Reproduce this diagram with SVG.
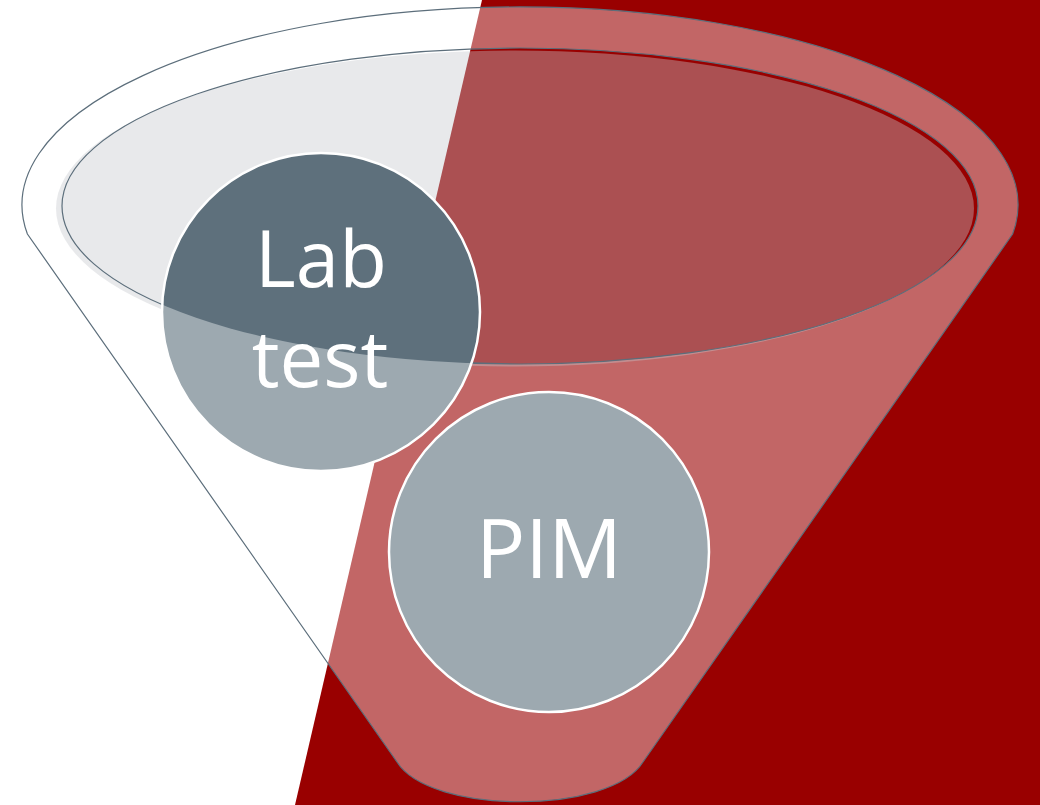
<svg xmlns="http://www.w3.org/2000/svg" width="1040" height="805" viewBox="0 0 1040 805">
  <defs>
    <style>
      .lbl { font-family: "Open Sans", "Liberation Sans", sans-serif; font-size: 82px; fill: #ffffff; text-anchor: middle; }
      .lbl2 { font-size: 78px; }
      .node { stroke: #ffffff; stroke-width: 2.5; }
      .edge { stroke: #5c6e7b; stroke-width: 1.2; }
    </style>
    <clipPath id="innerClip">
      <ellipse cx="520" cy="206" rx="458" ry="158"/>
    </clipPath>
  </defs>

  <rect x="0" y="0" width="1040" height="805" fill="#ffffff"/>
  <polygon id="bg-red" points="482,0 1040,0 1040,805 295,805" fill="#990000"/>

  <g id="funnel">
    <path d="M 27.4,234 A 498 198 0 1 1 1012.6,234 L 643,762 C 610,815 430,815 397,762 Z M 62,206 A 458 158 0 1 0 978,206 A 458 158 0 1 0 62,206 Z" fill="#ffffff" fill-opacity="0.4" fill-rule="evenodd"/>
    <ellipse cx="515" cy="208.5" rx="459" ry="158" fill="#c5c8cd" fill-opacity="0.4"/>
    <path class="edge" fill="none" d="M 27.4,234 A 498 198 0 1 1 1012.6,234 L 643,762 C 610,815 430,815 397,762 Z"/>
    <ellipse class="edge" fill="none" cx="520" cy="206" rx="458" ry="158"/>
  </g>

  <g id="node-lab-test">
    <circle cx="321" cy="312" r="159" fill="#9da9b0"/>
    <circle cx="321" cy="312" r="159" fill="#5e707c" clip-path="url(#innerClip)"/>
    <circle class="node" cx="321" cy="312" r="159" fill="none"/>
    <text class="lbl lbl2" x="321" y="287">Lab</text>
    <text class="lbl lbl2" x="320" y="387">test</text>
  </g>

  <g id="node-pim">
    <circle class="node" cx="549" cy="552" r="160" fill="#9da9b0"/>
    <text class="lbl" x="549" y="578">PIM</text>
  </g>
</svg>
